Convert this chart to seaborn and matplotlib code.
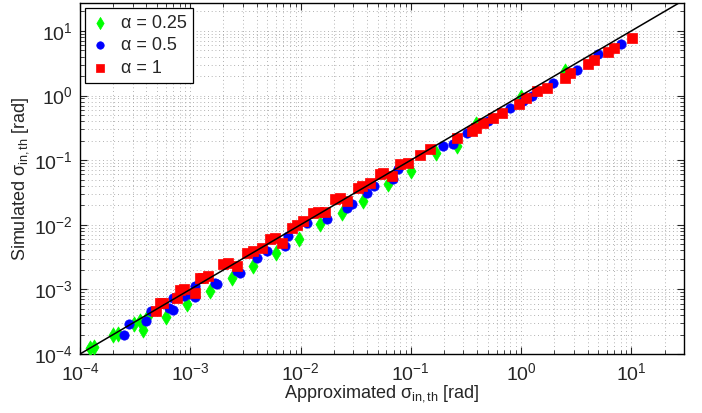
import numpy as np
import pandas as pd
import seaborn as sns
import matplotlib.pyplot as plt

# values (approximated vs simulated sigma)
green_x = [1.23e-4, 1.35e-4, 2.0e-4, 2.2e-4, 3.1e-4, 3.5e-4, 3.7e-4, 4.1e-4, 6.0e-4, 9.4e-4,
           1.5e-3, 2.4e-3, 3.7e-3, 6.0e-3, 9.6e-3, 1.5e-2, 2.4e-2, 3.7e-2, 6.2e-2, 1.0e-1,
           0.17, 0.26, 0.39, 1.0, 2.5]
green_y = [1.24e-4, 1.3e-4, 2.0e-4, 2.05e-4, 2.9e-4, 3.2e-4, 2.35e-4, 3.9e-4, 3.7e-4, 5.9e-4,
           9.5e-4, 1.5e-3, 2.3e-3, 3.6e-3, 6.0e-3, 1.02e-2, 1.5e-2, 2.35e-2, 4.3e-2, 6.8e-2,
           0.13, 0.165, 0.36, 0.95, 2.4]

blue_x = [2.5e-4, 2.8e-4, 4.0e-4, 4.4e-4, 6.4e-4, 7.0e-4, 7.0e-4, 8.8e-4, 1.0e-3, 1.1e-3,
          1.1e-3, 1.68e-3, 1.75e-3, 2.65e-3, 2.8e-3, 4.0e-3, 5.0e-3, 7.2e-3, 7.7e-3, 1.15e-2,
          1.74e-2, 2.65e-2, 2.9e-2, 4.0e-2, 4.6e-2, 6.9e-2, 7.7e-2, 0.195, 0.24, 0.32,
          0.5, 0.8, 1.03, 1.26, 1.95, 3.2, 5.0, 8.1]
blue_y = [2.0e-4, 2.9e-4, 3.2e-4, 4.6e-4, 5.1e-4, 4.8e-4, 7.4e-4, 7.9e-4, 8.5e-4, 7.6e-4,
          1.13e-3, 1.26e-3, 1.2e-3, 1.9e-3, 1.8e-3, 3.1e-3, 3.9e-3, 4.7e-3, 6.6e-3, 1.07e-2,
          1.23e-2, 1.8e-2, 2.1e-2, 3.1e-2, 4.0e-2, 5.1e-2, 7.2e-2, 0.165, 0.18, 0.26,
          0.41, 0.63, 0.82, 1.0, 1.55, 2.5, 4.4, 6.3]

red_x = [4.9e-4, 5.3e-4, 5.7e-4, 7.6e-4, 8.1e-4, 8.8e-4, 1.1e-3, 1.23e-3, 1.3e-3, 1.45e-3,
         2.0e-3, 2.2e-3, 2.65e-3, 3.3e-3, 3.7e-3, 4.5e-3, 5.3e-3, 5.9e-3, 6.8e-3, 8.3e-3,
         9.3e-3, 1.06e-2, 1.3e-2, 1.45e-2, 1.67e-2, 2.05e-2, 2.3e-2, 2.65e-2, 3.3e-2, 3.6e-2,
         4.3e-2, 5.2e-2, 5.6e-2, 6.8e-2, 8.0e-2, 9.4e-2, 0.12, 0.15, 0.26, 0.36,
         0.39, 0.45, 0.56, 0.67, 0.95, 1.1, 1.4, 1.7, 2.5, 2.8,
         4.0, 4.6, 6.1, 7.0, 10.2]
red_y = [4.6e-4, 6.1e-4, 6.2e-4, 7.4e-4, 9.8e-4, 1.0e-3, 8.8e-4, 1.5e-3, 1.5e-3, 1.6e-3,
         2.5e-3, 2.6e-3, 2.3e-3, 3.6e-3, 3.9e-3, 4.3e-3, 6.0e-3, 6.2e-3, 5.2e-3, 8.9e-3,
         1.0e-2, 1.15e-2, 1.5e-2, 1.6e-2, 1.6e-2, 2.5e-2, 2.6e-2, 2.3e-2, 3.7e-2, 4.0e-2,
         4.4e-2, 6.1e-2, 6.3e-2, 5.6e-2, 8.7e-2, 9.0e-2, 0.12, 0.149, 0.22, 0.28,
         0.31, 0.38, 0.45, 0.53, 0.73, 0.91, 1.17, 1.3, 1.86, 2.2,
         3.1, 3.5, 4.7, 5.5, 7.8]

labels = ['α = 0.25', 'α = 0.5', 'α = 1']

sns.set_style('ticks')
plt.rcParams['font.family'] = ['Liberation Sans', 'DejaVu Sans']
plt.rcParams['mathtext.fontset'] = 'custom'
plt.rcParams['mathtext.rm'] = 'Liberation Sans'
plt.rcParams['mathtext.it'] = 'Liberation Sans:italic'

fig = plt.figure(figsize=(7.02, 4.13), dpi=100)
ax = fig.add_axes([80/702, 59/413, 604/702, 351/413])

sns.scatterplot(x=green_x, y=green_y, ax=ax, marker='d', s=60, color='#00ff00',
                edgecolor='#00ff00', linewidth=0.5, label=labels[0], zorder=3)
sns.scatterplot(x=blue_x, y=blue_y, ax=ax, marker='o', s=45, color='#0000ff',
                edgecolor='#0000ff', linewidth=0.5, label=labels[1], zorder=4)
sns.scatterplot(x=red_x, y=red_y, ax=ax, marker='s', s=48, color='#ff0000',
                edgecolor='#ff0000', linewidth=0.5, label=labels[2], zorder=5)

ax.plot([1e-4, 30], [1e-4, 30], color='black', lw=1.1, zorder=6)

ax.set_xscale('log')
ax.set_yscale('log')
ax.set_xlim(1e-4, 30)
ax.set_ylim(1e-4, 27)

ax.grid(True, which='both', linestyle=(0, (1, 3.5)), color='0.6', lw=0.6)
ax.tick_params(which='both', direction='in', top=True, right=True, labelsize=14)
ax.tick_params(which='major', length=5, width=0.8)
ax.tick_params(axis='x', which='major', pad=6)
ax.tick_params(axis='y', which='major', pad=5)
ax.tick_params(which='minor', length=3, width=0.6)
for sp in ax.spines.values():
    sp.set_linewidth(1.0)
    sp.set_color('black')

ax.set_xlabel('Approximated σ$_{\\mathrm{in,th}}$ [rad]', fontsize=13, labelpad=-1)
ax.set_ylabel('Simulated σ$_{\\mathrm{in,th}}$ [rad]', fontsize=13, labelpad=2)

leg = ax.legend(loc='upper left', fontsize=13, frameon=True, fancybox=False,
                framealpha=1, edgecolor='black', handlelength=0.9, handletextpad=0.7,
                labelspacing=0.3, borderpad=0.35, borderaxespad=0.3, markerscale=0.8)
leg.get_frame().set_linewidth(0.9)

fig.savefig('out.png', dpi=100)
